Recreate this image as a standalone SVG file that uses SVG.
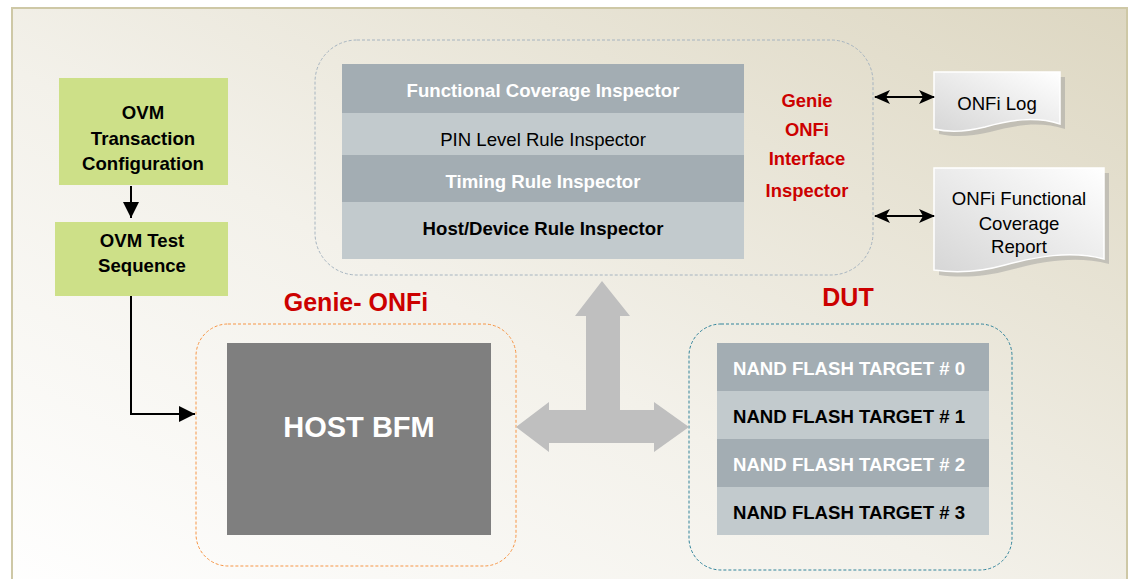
<svg xmlns="http://www.w3.org/2000/svg" width="1131" height="579" viewBox="0 0 1131 579">
<defs>
<linearGradient id="bg" x1="0" y1="1" x2="1" y2="0">
<stop offset="0" stop-color="#ffffff"/>
<stop offset="0.45" stop-color="#f3f1ea"/>
<stop offset="1" stop-color="#ddd7c2"/>
</linearGradient>
<linearGradient id="doc" x1="1" y1="0" x2="0" y2="1">
<stop offset="0" stop-color="#ffffff"/>
<stop offset="1" stop-color="#d6d6d6"/>
</linearGradient>
<marker id="ah" markerUnits="userSpaceOnUse" markerWidth="16" markerHeight="16" viewBox="0 0 16 16" refX="16" refY="8" orient="auto-start-reverse">
<path d="M0,0 L16,8 L0,16 Z" fill="#000"/>
</marker>
<marker id="ah2" markerUnits="userSpaceOnUse" markerWidth="16" markerHeight="14" viewBox="0 0 16 14" refX="15" refY="7" orient="auto-start-reverse">
<path d="M0,0 L16,7 L0,14 L4,7 Z" fill="#000"/>
</marker>
<style>
.t{font-family:"Liberation Sans",Arial,sans-serif;font-size:18.6px;text-anchor:middle}
.b{font-weight:bold}
.w{fill:#ffffff}
.k{fill:#000000}
.red{fill:#cc0000;font-weight:bold;font-size:18.4px}
.green{fill:#cde088}
.dark{fill:#a3adb3}
.light{fill:#c2cacd}
.conn{stroke:#000;stroke-width:2;fill:none}
.docshape{fill:url(#doc);stroke:#ffffff;stroke-width:1.5}
.shadow{fill:#9a9a9a;opacity:0.45}
</style>
</defs>
<rect x="0" y="0" width="1131" height="579" fill="#ffffff"/>
<rect x="12" y="8" width="1115" height="600" fill="url(#bg)" stroke="#cec8a6" stroke-width="2"/>

<g id="inspector-container">
<rect x="315" y="40" width="558" height="235" rx="42" fill="none" stroke="#a6b4c0" stroke-width="1" stroke-dasharray="3,2"/>
<rect class="dark" x="342" y="64" width="402" height="49"/>
<rect class="light" x="342" y="113" width="402" height="42"/>
<rect class="dark" x="342" y="155" width="402" height="47"/>
<rect class="light" x="342" y="202" width="402" height="57"/>
<text class="t b w" x="543" y="97">Functional Coverage Inspector</text>
<text class="t k" x="543" y="146">PIN Level Rule Inspector</text>
<text class="t b w" x="543" y="188">Timing Rule Inspector</text>
<text class="t b k" x="543" y="235">Host/Device Rule Inspector</text>
<text class="t red" x="807" y="107">Genie</text>
<text class="t red" x="807" y="136">ONFi</text>
<text class="t red" x="807" y="165">Interface</text>
<text class="t red" x="807" y="197">Inspector</text>
</g>

<g id="ovm-transaction">
<rect class="green" x="59" y="78" width="169" height="107"/>
<text class="t b k" x="143" y="119">OVM</text>
<text class="t b k" x="143" y="145">Transaction</text>
<text class="t b k" x="143" y="170">Configuration</text>
</g>

<g id="ovm-test-sequence">
<rect class="green" x="55" y="222" width="173" height="74"/>
<text class="t b k" x="142" y="247">OVM Test</text>
<text class="t b k" x="142" y="272">Sequence</text>
</g>

<g id="onfi-log">
<path class="shadow" d="M939,77 H1065 V129 C1040,121 1015,125 990,132 C970,137 952,137 939,134 Z"/>
<path class="docshape" d="M934,72 H1060 V124 C1035,116 1010,120 985,127 C965,132 947,132 934,129 Z"/>
<text class="t k" x="997" y="110">ONFi Log</text>
</g>

<g id="onfi-report">
<path class="shadow" d="M939,173 H1109 V264 C1075,255 1040,262 1010,270 C985,277 960,278 939,275 Z"/>
<path class="docshape" d="M934,168 H1104 V259 C1070,250 1035,257 1005,265 C980,272 955,273 934,270 Z"/>
<text class="t k" x="1019" y="205">ONFi Functional</text>
<text class="t k" x="1019" y="230">Coverage</text>
<text class="t k" x="1019" y="253">Report</text>
</g>

<g id="genie-onfi">
<text class="t red" style="font-size:25px" x="356" y="311">Genie- ONFi</text>
<rect x="196" y="324" width="320" height="242" rx="32" fill="none" stroke="#f79646" stroke-width="1" stroke-dasharray="3,2"/>
</g>

<g id="host-bfm">
<rect x="227" y="343" width="264" height="192" fill="#7f7f7f"/>
<text class="t b w" style="font-size:29px" x="359" y="437">HOST BFM</text>
</g>

<g id="dut">
<text class="t red" style="font-size:25px" x="848" y="306">DUT</text>
<rect x="689" y="324" width="323" height="246" rx="32" fill="none" stroke="#31849b" stroke-width="1" stroke-dasharray="3,2"/>
<rect class="dark" x="717" y="343" width="272" height="48"/>
<rect class="light" x="717" y="391" width="272" height="48"/>
<rect class="dark" x="717" y="439" width="272" height="48"/>
<rect class="light" x="717" y="487" width="272" height="48"/>
<text class="t b w" style="text-anchor:start" x="733" y="375">NAND FLASH TARGET # 0</text>
<text class="t b k" style="text-anchor:start" x="733" y="423">NAND FLASH TARGET # 1</text>
<text class="t b w" style="text-anchor:start" x="733" y="471">NAND FLASH TARGET # 2</text>
<text class="t b k" style="text-anchor:start" x="733" y="519">NAND FLASH TARGET # 3</text>
</g>

<g id="connectors">
<path class="conn" d="M131,186 V218" marker-end="url(#ah)"/>
<path class="conn" d="M131,296 V414 H195" marker-end="url(#ah)"/>
<path class="conn" d="M875,97 H934" marker-start="url(#ah2)" marker-end="url(#ah2)"/>
<path class="conn" d="M875,216 H934" marker-start="url(#ah2)" marker-end="url(#ah2)"/>
<polygon fill="#bfbfbf" points="516,427 549,402 549,410 586,410 586,316 575,316 602,281 630,316 620,316 620,410 654,410 654,402 689,427 654,452 654,443 549,443 549,452"/>
</g>
</svg>
